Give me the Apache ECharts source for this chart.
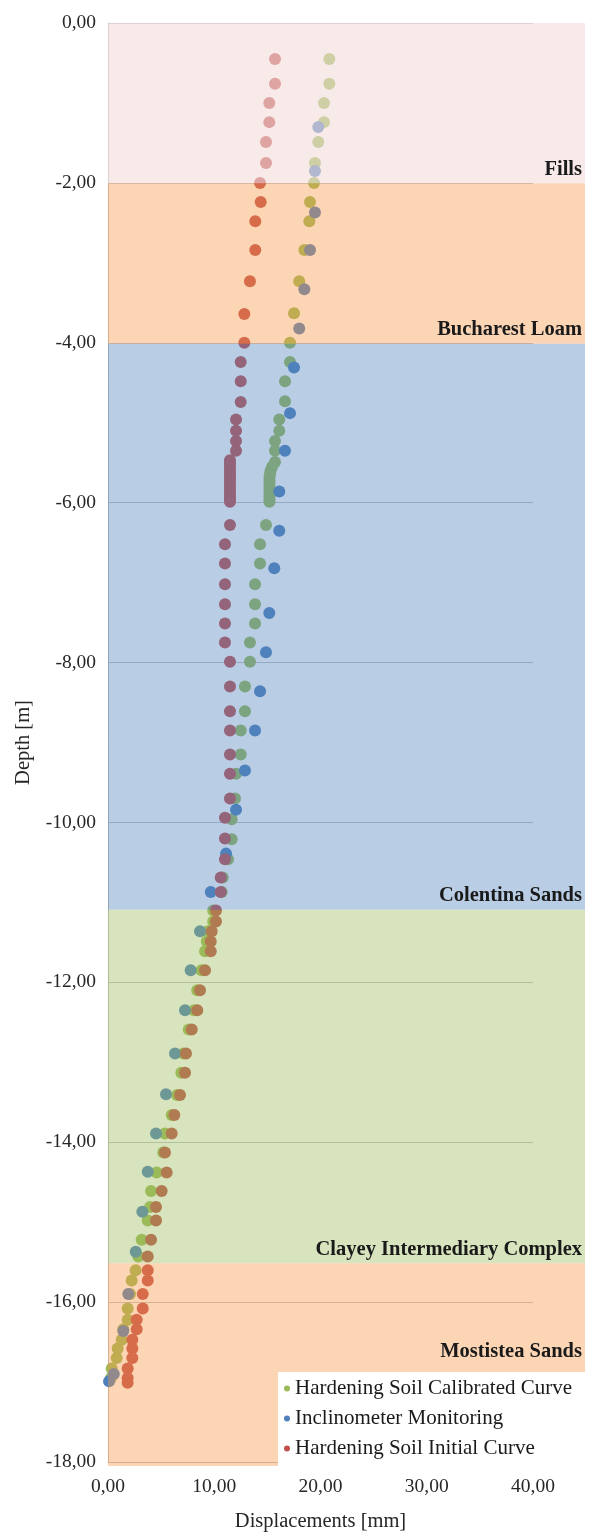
<!DOCTYPE html>
<html>
<head>
<meta charset="utf-8">
<script src="https://cdn.jsdelivr.net/npm/echarts@6/dist/echarts.min.js"></script>
<style>
html,body{margin:0;padding:0;background:#fff;}
#chart{width:603px;height:1537px;}
</style>
</head>
<body>
<div id="chart"></div>
<script>
// ---- data: [displacement mm, depth m] ----
const calibratedCurve = [
 [20.83,-0.45],[20.83,-0.76],[20.33,-1.00],[20.33,-1.24],[19.79,-1.49],[19.48,-1.75],[19.39,-2.00],[19.01,-2.24],
 [18.95,-2.48],[18.48,-2.84],[18.00,-3.23],[17.51,-3.63],[17.13,-4.00],[17.13,-4.24],[16.66,-4.48],[16.66,-4.73],
 [16.12,-4.96],[16.12,-5.10],[15.72,-5.23],[15.72,-5.35],[15.72,-5.49],[15.45,-5.55],[15.30,-5.60],[15.25,-5.64],
 [15.20,-5.68],[15.20,-5.72],[15.20,-5.76],[15.20,-5.80],[15.20,-5.84],[15.20,-5.88],[15.20,-5.92],[15.20,-5.96],
 [15.20,-5.99],[14.87,-6.28],[14.31,-6.52],[14.31,-6.76],[13.84,-7.02],[13.84,-7.27],[13.84,-7.51],[13.36,-7.75],
 [13.36,-7.99],[12.89,-8.30],[12.89,-8.61],[12.49,-8.85],[12.49,-9.15],[12.05,-9.39],[11.95,-9.70],[11.64,-9.96],
 [11.64,-10.21],[11.30,-10.46],[10.80,-10.69],[10.70,-10.87],[9.90,-11.10],[9.90,-11.24],[9.40,-11.36],[9.30,-11.49],
 [9.13,-11.61],[8.80,-11.85],[8.40,-12.10],[8.10,-12.35],[7.60,-12.59],[7.10,-12.89],[6.90,-13.13],[6.50,-13.41],
 [6.00,-13.66],[5.36,-13.89],[5.20,-14.13],[4.58,-14.38],[4.05,-14.61],[3.95,-14.81],[3.74,-14.98],[3.17,-15.22],
 [2.85,-15.43],[2.60,-15.60],[2.23,-15.73],[2.07,-15.90],[1.85,-16.08],[1.85,-16.22],[1.44,-16.34],[1.29,-16.47],
 [0.91,-16.58],[0.82,-16.70],[0.35,-16.83],[0.28,-16.95]
];
const inclinometer = [
 [19.79,-1.30],[19.48,-1.85],[19.48,-2.37],[19.01,-2.84],[18.48,-3.33],[18.00,-3.82],[17.51,-4.31],[17.13,-4.88],
 [16.66,-5.35],[16.12,-5.86],[16.12,-6.35],[15.65,-6.82],[15.18,-7.38],[14.87,-7.87],[14.31,-8.36],[13.84,-8.85],
 [12.89,-9.35],[12.05,-9.84],[11.11,-10.39],[9.67,-10.87],[8.66,-11.36],[7.78,-11.85],[7.25,-12.35],[6.31,-12.89],
 [5.46,-13.40],[4.52,-13.89],[3.74,-14.37],[3.23,-14.87],[2.61,-15.37],[1.91,-15.90],[1.44,-16.36],[0.55,-16.90],
 [0.10,-16.99]
];
const initialCurve = [
 [15.72,-0.45],[15.72,-0.76],[15.18,-1.00],[15.18,-1.24],[14.87,-1.49],[14.87,-1.75],[14.31,-2.00],[14.37,-2.24],
 [13.86,-2.48],[13.86,-2.84],[13.36,-3.23],[12.83,-3.64],[12.83,-4.00],[12.49,-4.24],[12.49,-4.48],[12.49,-4.74],
 [12.05,-4.96],[12.05,-5.10],[12.05,-5.23],[12.05,-5.35],[11.48,-5.47],[11.48,-5.51],[11.48,-5.55],[11.48,-5.59],
 [11.48,-5.63],[11.48,-5.67],[11.48,-5.71],[11.48,-5.75],[11.48,-5.79],[11.48,-5.83],[11.48,-5.87],[11.48,-5.91],
 [11.48,-5.95],[11.48,-5.99],[11.48,-6.28],[11.01,-6.52],[11.01,-6.76],[11.01,-7.02],[11.01,-7.27],[11.01,-7.51],
 [11.01,-7.75],[11.48,-7.99],[11.48,-8.30],[11.48,-8.61],[11.48,-8.85],[11.48,-9.15],[11.48,-9.39],[11.48,-9.70],
 [11.01,-9.94],[11.01,-10.20],[11.01,-10.46],[10.61,-10.69],[10.61,-10.87],[10.16,-11.10],[10.16,-11.24],[9.76,-11.36],
 [9.67,-11.49],[9.67,-11.61],[9.13,-11.85],[8.66,-12.10],[8.40,-12.35],[7.88,-12.59],[7.34,-12.89],[7.25,-13.13],
 [6.78,-13.41],[6.24,-13.66],[5.99,-13.89],[5.36,-14.13],[5.52,-14.38],[5.05,-14.61],[4.52,-14.81],[4.52,-14.98],
 [4.05,-15.22],[3.74,-15.43],[3.74,-15.60],[3.74,-15.73],[3.27,-15.90],[3.27,-16.08],[2.70,-16.22],[2.70,-16.34],
 [2.29,-16.47],[2.29,-16.58],[2.29,-16.70],[1.85,-16.83],[1.85,-16.95],[1.85,-17.01]
];
const seriesNames = ['Hardening Soil Calibrated Curve','Inclinometer Monitoring','Hardening Soil Initial Curve'];
const bandNames = ['Fills','Bucharest Loam','Colentina Sands','Clayey Intermediary Complex','Mostistea Sands'];
const bandTop = [0,-2,-4,-11.06,-15.47];
const bandBottom = [-2,-4,-11.06,-15.47,-18];
const xTicks = {min:0, max:40, step:10};
const yTicks = {min:-18, max:0, step:2};

// ---- styles ----
const serif = 'Liberation Serif';
const seriesColors = ['#9BBB59','#4F81BD','#C0504D'];
const bandFill = ['rgba(242,220,219,0.6)','rgba(247,150,70,0.4)','rgba(79,129,189,0.4)','rgba(155,187,89,0.4)','rgba(247,150,70,0.4)'];
const bandLabelOffset = [[0,0],[0,0],[0,0],[0,0],[0,-101]];
const fmt = v => v.toFixed(2).replace('.', ',');

const bandData = bandNames.map((n,i)=>[
  {yAxis: bandTop[i], name: n, itemStyle:{color: bandFill[i]},
   label:{offset: bandLabelOffset[i]}},
  {yAxis: bandBottom[i]}
]);

const chart = echarts.init(document.getElementById('chart'), null, {renderer:'canvas'});
const option = {
  animation:false,
  backgroundColor:'#fff',
  textStyle:{fontFamily:serif},
  grid:[
    {left:108, top:23, width:477, height:1443},
    {left:108, top:23, width:425, height:1443}
  ],
  xAxis:[
    {gridIndex:0, type:'value', min:0, max:45, show:false},
    {gridIndex:1, type:'value', min:xTicks.min, max:xTicks.max, interval:xTicks.step,
     name:'Displacements [mm]', nameLocation:'middle', nameGap:49,
     nameTextStyle:{fontFamily:serif, fontSize:20.5, color:'#262626'},
     axisLine:{show:true, onZero:false, lineStyle:{color:'#bfbfbf', width:1}},
     axisTick:{show:false}, splitLine:{show:false},
     axisLabel:{formatter:fmt, margin:15, fontFamily:serif, fontSize:19.5, color:'#262626'}}
  ],
  yAxis:[
    {gridIndex:0, type:'value', min:-18, max:0, show:false},
    {gridIndex:1, type:'value', min:yTicks.min, max:yTicks.max, interval:yTicks.step,
     name:'Depth [m]', nameLocation:'middle', nameRotate:90, nameGap:74,
     nameTextStyle:{fontFamily:serif, fontSize:20.5, color:'#262626'},
     axisLine:{show:true, onZero:false, lineStyle:{color:'#bfbfbf', width:1}},
     axisTick:{show:false},
     splitLine:{show:true, lineStyle:{color:'#c4c4c4', width:1}},
     axisLabel:{formatter:fmt, margin:12, fontFamily:serif, fontSize:19.5, color:'#262626'}}
  ],
  legend:{
    data:seriesNames, orient:'vertical', left:278, top:1372, z:10,
    backgroundColor:'#ffffff', padding:[6,14,13,6], itemGap:9,
    icon:'circle', itemWidth:6, itemHeight:6,
    textStyle:{fontFamily:serif, fontSize:21, color:'#1a1a1a', lineHeight:20.5}
  },
  series:[
    {name:seriesNames[0], type:'scatter', xAxisIndex:1, yAxisIndex:1, data:calibratedCurve,
     symbolSize:12, itemStyle:{color:seriesColors[0], opacity:1}, z:2},
    {name:seriesNames[1], type:'scatter', xAxisIndex:1, yAxisIndex:1, data:inclinometer,
     symbolSize:12, itemStyle:{color:seriesColors[1], opacity:1}, z:3},
    {name:seriesNames[2], type:'scatter', xAxisIndex:1, yAxisIndex:1, data:initialCurve,
     symbolSize:12, itemStyle:{color:seriesColors[2], opacity:1}, z:4},
    {name:'layers', type:'scatter', xAxisIndex:0, yAxisIndex:0, data:[], z:6, silent:true,
     markArea:{z:6, silent:true,
       label:{show:true, position:'insideBottomRight', distance:3, fontFamily:serif,
              fontWeight:'bold', fontSize:20.5, color:'#1a1a1a'},
       data:bandData}}
  ]
};
chart.setOption(option);
</script>
</body>
</html>
